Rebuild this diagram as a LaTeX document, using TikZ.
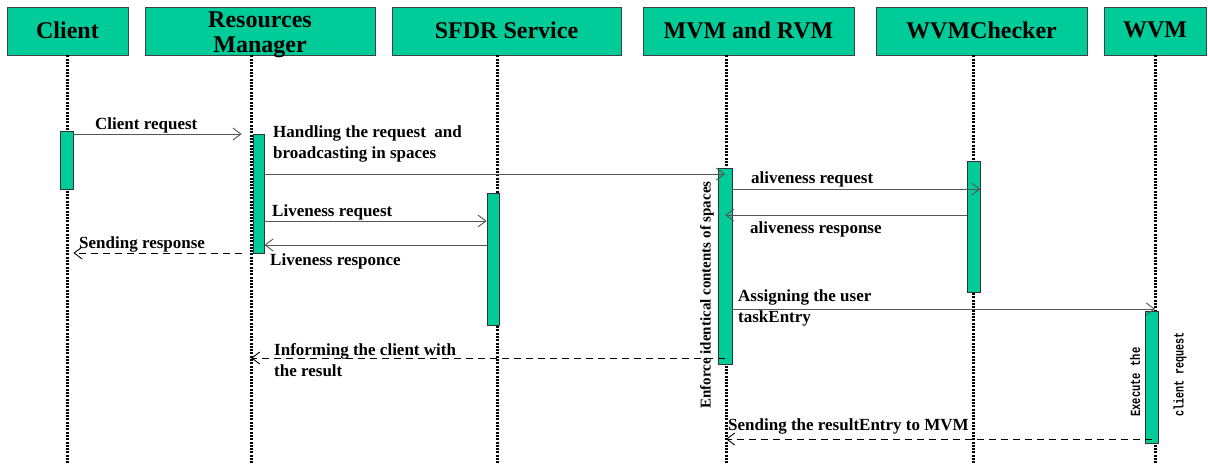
\documentclass[tikz,border=0pt]{standalone}
\usepackage{fontspec}
\setmainfont{Liberation Serif}
\setmonofont{Liberation Mono}
\usetikzlibrary{arrows.meta,calc}
\definecolor{actfill}{RGB}{0,204,153}
\definecolor{msgline}{RGB}{85,85,85}

\begin{document}
\begin{tikzpicture}[x=1pt,y=-1pt,
  header/.style={draw=black!75, line width=0.8pt, fill=actfill, inner sep=0pt,
    minimum height=48pt, align=center, text depth=2pt,
    font=\fontsize{24}{25}\selectfont\bfseries},
  headtext/.style={inner sep=0pt, anchor=base, font=\fontsize{24}{25}\selectfont\bfseries},
  lifeline/.style={line width=3pt, dash pattern=on 2pt off 1.3pt},
  actbar/.style={draw=black!80, line width=0.8pt, fill=actfill, inner sep=0pt},
  msg/.style={draw=msgline, line width=0.9pt, -{Straight Barb[length=8pt,width=12pt]}},
  reply/.style={msg, draw=black, dash pattern=on 7pt off 5pt},
  lbl/.style={font=\fontsize{17}{21}\selectfont\bfseries, inner sep=0pt, anchor=west, align=left},
  vlbl/.style={rotate=90, inner sep=0pt},
  vmono/.style={vlbl, anchor=west, font=\fontsize{14}{16}\selectfont\ttfamily\bfseries},
]
\useasboundingbox (0,0) rectangle (1208,464);

% participants
\node[header, minimum width=121pt] (client) at (67.5,31)  {Client};
\node[header, minimum width=230pt] (rm)     at (260,31)   {};
\node[headtext] (rmtext1) at (rm.center |- 0,27) {Resources};
\node[headtext] (rmtext2) at (rm.center |- 0,52) {Manager};
\node[header, minimum width=229pt] (sfdr)   at (506.5,31) {SFDR Service};
\node[header, minimum width=211pt] (mvm)    at (748.5,31) {MVM and RVM};
\node[header, minimum width=211pt] (wvmc)   at (981.5,31) {WVMChecker};
\node[header, minimum width=102pt] (wvm)    at (1155,31)  {WVM};

% lifelines
\coordinate (llC)   at (67,464);
\coordinate (llRM)  at (251,464);
\coordinate (llSF)  at (497,464);
\coordinate (llMVM) at (726,464);
\coordinate (llWC)  at (973,464);
\coordinate (llW)   at (1155,464);
\draw[lifeline] (llC   |- client.south) -- (llC);
\draw[lifeline] (llRM  |- rm.south)     -- (llRM);
\draw[lifeline] (llSF  |- sfdr.south)   -- (llSF);
\draw[lifeline] (llMVM |- mvm.south)    -- (llMVM);
\draw[lifeline] (llWC  |- wvmc.south)   -- (llWC);
\draw[lifeline] (llW   |- wvm.south)    -- (llW);

% side note on the MVM activation
\node[vlbl, font=\fontsize{15}{17}\selectfont\bfseries] (enforce) at (707,295)
  {Enforce identical contents of spaces};

% activation bars
\node[actbar, minimum width=13pt, minimum height=58pt]  (barC)   at (66.5,160)   {};
\node[actbar, minimum width=11pt, minimum height=119pt] (barRM)  at (258.5,193.5) {};
\node[actbar, minimum width=12pt, minimum height=132pt] (barSF)  at (493,259)    {};
\node[actbar, minimum width=14pt, minimum height=196pt] (barMVM) at (725,266)    {};
\node[actbar, minimum width=13pt, minimum height=131pt] (barWC)  at (973.5,226.5) {};
\node[actbar, minimum width=13pt, minimum height=132pt] (barW)   at (1151.5,377) {};

\node[vmono] (exec1) at (1135,417) {\scalebox{0.75}[1]{Execute the}};
\node[vmono] (exec2) at (1180,417) {\scalebox{0.72}[1]{client request}};

% messages
\draw[msg]   (barC.east |- 0,134) -- ([xshift=-11pt]barRM.west |- 0,134);
\node[lbl] (m1) at (95,125) {Client request};

\draw[msg]   (barRM.east |- 0,174) -- (barMVM |- 0,174);
\node[lbl] (m2) at (273,144) {Handling the request \ and\\broadcasting in spaces};

\draw[msg]   (barRM.east |- 0,221) -- (barSF.west |- 0,221);
\node[lbl] (m3) at (272,212) {Liveness request};

\draw[msg]   (barSF.west |- 0,245) -- (barRM.east |- 0,245);
\node[lbl] (m4) at (270,261) {Liveness responce};

\draw[reply] ([xshift=-11pt]barRM.west |- 0,253) -- (barC.east |- 0,253);
\node[lbl] (m5) at (79,244) {Sending response};

\draw[msg]   (barMVM.east |- 0,189) -- (barWC.east |- 0,189);
\node[lbl] (m6) at (751,179) {aliveness request};

\draw[msg]   (barWC.west |- 0,215) -- (barMVM |- 0,215);
\node[lbl] (m7) at (750,229) {aliveness response};

\draw[msg]   (barMVM.east |- 0,309) -- (llW |- 0,309);
\node[lbl] (m8a) at (738,297) {Assigning the user};
\node[lbl] (m8b) at (738,318) {taskEntry};

\draw[reply] (barMVM |- 0,358) -- (llRM |- 0,358);
\node[lbl] (m9) at (274,360) {Informing the client with\\the result};

\draw[reply] (barW |- 0,439) -- (llMVM |- 0,439);
\node[lbl] (m10) at (728,426) {Sending the resultEntry to MVM};
\end{tikzpicture}
\end{document}
